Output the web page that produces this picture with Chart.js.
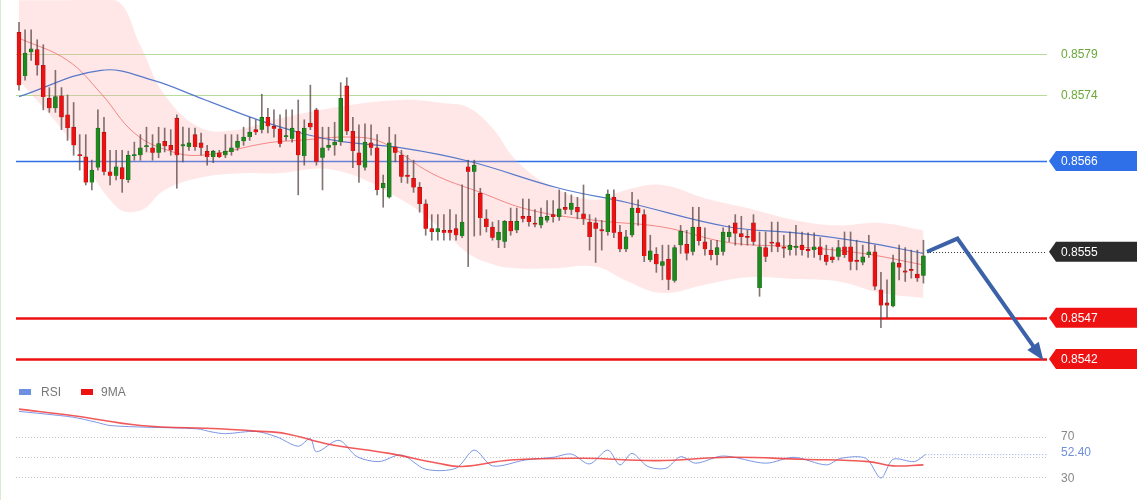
<!DOCTYPE html>
<html><head><meta charset="utf-8">
<script src="https://cdn.jsdelivr.net/npm/chart.js@4"></script>
<style>
html,body{margin:0;padding:0;background:#fff;}
#wrap{position:relative;width:1140px;height:500px;border-left:1px solid #d8ecd0;box-sizing:border-box;}
#main{position:absolute;left:0;top:0;}
#rsi{position:absolute;left:0;top:380px;}
</style></head><body>
<div id="wrap"><canvas id="main" width="1140" height="375"></canvas><canvas id="rsi" width="1140" height="120"></canvas></div>
<script>
const opens=[.85816,.85763,.85792,.85795,.85776,.85736,.85724,.85739,.85716,.85701,.85667,.85665,.85634,.85652,.85695,.85647,.85642,.85652,.85637,.85666,.85667,.85677,.85676,.85670,.85684,.85679,.85712,.85678,.85677,.85692,.85682,.85672,.85665,.85670,.85667,.85671,.85676,.85684,.85689,.85698,.85698,.85713,.85702,.85699,.85689,.85687,.85696,.85666,.85706,.85722,.85664,.85676,.85679,.85683,.85751,.85696,.85670,.85652,.85682,.85676,.85627,.85616,.85677,.85667,.85643,.85639,.85628,.85608,.85578,.85574,.85576,.85576,.85578,.85569,.85653,.85647,
.85621,.85590,.85580,.85564,.85562,.85587,.85576,.85593,.85593,.85584,.85582,.85588,.85595,.85592,.85604,.85601,.85604,.85596,.85586,.85585,.85576,.85574,.85616,.85574,.85553,.85570,.85603,.85595,.85540,.85547,.85533,.85541,.85515,.85558,.85559,.85550,.85580,.85562,.85552,.85546,.85550,.85568,.85585,.85572,.85568,.85585,.85506,.85555,.85561,.85561,.85555,.85552,.85555,.85558,.85552,.85552,.85556,.85546,.85544,.85544,.85556,.85556,.85540,.85537,.85546,.85550,.85504,.85488,.85484,.85536,.85526,.85528,.85523,.85521];
const highs=[.85828,.85819,.85819,.85807,.85801,.85749,.85770,.85749,.85740,.85731,.85692,.85692,.85661,.85722,.85713,.85673,.85673,.85673,.85672,.85683,.85692,.85701,.85692,.85701,.85700,.85698,.85716,.85701,.85700,.85700,.85694,.85679,.85673,.85673,.85692,.85692,.85692,.85701,.85713,.85710,.85741,.85724,.85722,.85716,.85722,.85722,.85734,.85710,.85752,.85724,.85701,.85701,.85707,.85755,.85761,.85713,.85704,.85705,.85704,.85692,.85643,.85701,.85692,.85673,.85667,.85661,.85634,.85613,.85595,.85595,.85595,.85601,.85595,.85631,.85661,.85661,
.85627,.85601,.85586,.85588,.85588,.85603,.85603,.85614,.85614,.85601,.85603,.85612,.85612,.85625,.85622,.85619,.85616,.85631,.85595,.85591,.85588,.85625,.85625,.85582,.85576,.85622,.85613,.85601,.85570,.85555,.85558,.85558,.85558,.85582,.85576,.85604,.85604,.85579,.85564,.85564,.85579,.85582,.85595,.85593,.85576,.85595,.85574,.85574,.85586,.85586,.85570,.85574,.85582,.85574,.85573,.85573,.85567,.85558,.85555,.85564,.85574,.85574,.85564,.85558,.85570,.85558,.85525,.85516,.85546,.85558,.85555,.85552,.85552,.85564];
const lows=[.85746,.85758,.85782,.85764,.85722,.85719,.85719,.85698,.85685,.85667,.85649,.85631,.85625,.85649,.85643,.85631,.85637,.85622,.85634,.85661,.85661,.85671,.85661,.85664,.85671,.85667,.85627,.85659,.85673,.85673,.85667,.85655,.85658,.85664,.85664,.85667,.85673,.85679,.85685,.85692,.85694,.85694,.85689,.85677,.85685,.85683,.85619,.85655,.85698,.85655,.85625,.85673,.85667,.85679,.85692,.85652,.85634,.85649,.85667,.85619,.85604,.85615,.85659,.85634,.85633,.85622,.85598,.85570,.85564,.85564,.85564,.85564,.85564,.85567,.85532,.85569,
.85570,.85574,.85564,.85555,.85555,.85570,.85573,.85586,.85581,.85580,.85579,.85586,.85586,.85588,.85596,.85595,.85590,.85583,.85552,.85537,.85552,.85570,.85567,.85550,.85550,.85568,.85582,.85538,.85538,.85525,.85516,.85504,.85513,.85548,.85540,.85546,.85558,.85546,.85540,.85534,.85546,.85562,.85558,.85558,.85558,.85558,.85496,.85538,.85550,.85550,.85543,.85546,.85546,.85546,.85543,.85543,.85540,.85534,.85537,.85540,.85543,.85528,.85528,.85534,.85543,.85504,.85458,.85470,.85483,.85516,.85514,.85518,.85514,.85512];
const closes=[.85752,.85791,.85796,.85776,.85738,.85724,.85738,.85713,.85700,.85679,.85666,.85634,.85649,.85700,.85647,.85642,.85653,.85638,.85667,.85667,.85676,.85678,.85670,.85681,.85678,.85673,.85667,.85679,.85682,.85677,.85676,.85665,.85672,.85665,.85672,.85676,.85684,.85689,.85695,.85695,.85713,.85702,.85699,.85681,.85690,.85700,.85667,.85700,.85701,.85659,.85676,.85679,.85683,.85736,.85696,.85672,.85655,.85683,.85676,.85625,.85633,.85682,.85670,.85641,.85641,.85628,.85608,.85578,.85574,.85578,.85573,.85573,.85570,.85586,.85647,.85655,
.85591,.85580,.85567,.85574,.85587,.85575,.85587,.85590,.85586,.85583,.85592,.85593,.85592,.85602,.85601,.85609,.85598,.85590,.85568,.85578,.85575,.85620,.85573,.85553,.85568,.85603,.85597,.85545,.85551,.85535,.85538,.85516,.85555,.85575,.85548,.85580,.85563,.85553,.85546,.85555,.85574,.85574,.85572,.85568,.85567,.85562,.85556,.85544,.85560,.85556,.85554,.85558,.85557,.85552,.85551,.85556,.85546,.85538,.85540,.85555,.85546,.85538,.85538,.85544,.85550,.85508,.85485,.85485,.85537,.85531,.85525,.85527,.85518,.85545];

const bandIdx=[0,8,16,20,24,30,36,42,52,63,70,74,78,82,88,95,100,106,113,120,128,135,142,149];
const bandUpper=[.85855,.85855,.85855,.85800,.85740,.85700,.85698,.85710,.85725,.85734,.85730,.85725,.85700,.85660,.85628,.85613,.85625,.85631,.85615,.85603,.85588,.85582,.85585,.85576];
const bandLower=[.85758,.85690,.85605,.85600,.85625,.85640,.85645,.85645,.85649,.85613,.85575,.85548,.85535,.85530,.85530,.85532,.85515,.85500,.85510,.85519,.85517,.85514,.85500,.85494];
const maRedIdx=[0,8,13.5,19,24.5,30,41,46,55,60,68,76,84,95,106,117,128,139,149];
const maRed=[.85809,.85782,.85742,.85694,.85673,.85667,.85682,.85685,.85689,.85682,.85645,.85622,.85601,.85588,.85580,.85561,.85556,.85548,.85534];
const maBlueIdx=[0,13.5,22,30,41,52,63,74,89,100,117,128,139,149];
const maBlue=[.85738,.85770,.85758,.85736,.85706,.85685,.85676,.85660,.85627,.85610,.85580,.85573,.85562,.85548];

const levels=[0.8579,0.8574,0.8566,0.8555,0.8547,0.8542];
const levelLabels=['0.8579','0.8574','0.8566','0.8555','0.8547','0.8542'];
const arrowIdx=[149.6,154.6,168.2];
const arrowPrice=[.85550,.85566,.85424];

const rsiIdx=[0,4.3,9,12.7,15,21,29.3,31.8,34,39,42.5,46,48,49,52.7,55.7,59.3,63,67,72,75,78,83.4,88,91,94,97,99,101,103.6,106.6,109,111.5,116,123,127.7,133,135.4,139.5,142,144,147.5,149.3];
const rsiVals=[95.6,93,89.7,84.8,81.5,79.8,78.2,75,73.3,75.6,70,60.8,68.4,55.2,66.7,50.3,45.4,52,37.8,38.8,56.9,41.1,47,49.7,52.9,43.1,56.9,42.1,53.6,40.5,38.8,50.3,43.8,51,43.8,49.7,42.1,48.7,48.7,29,47.7,45.4,52.4];
const ma9Idx=[0,9,20,33,39,44,51,61,69,73,81,93,105,117,129,140,144,149];
const ma9Vals=[97.9,91.3,81.5,78.2,75.9,73.3,62.8,53.6,43.8,40.5,47,48.7,46.4,49.7,47.7,45.4,41.1,42.1];
const rsiLevels=[70,50,30];
const rsiLast='52.40';

const idx=closes.map((_,i)=>i);
const up=closes.map((c,i)=>c>=opens[i]);
const xy=(xs,ys)=>xs.map((x,i)=>({x,y:ys[i]}));
const XMIN=-18/6.07, XMAX=(1140-18)/6.07;

const overlay={
  id:'overlay',
  beforeDatasetsDraw(ch){
    const {ctx,scales:{x,y}}=ch;
    ctx.save();
    const x0=15, x1=1046;
    const styles=[['#b6dc9a',1.2],['#b6dc9a',1.2],['#2f6fe8',1.5],null,['#ee1111',2.5],['#ee1111',2.5]];
    levels.forEach((lv,i)=>{
      const py=Math.round(y.getPixelForValue(lv))+0.5;
      ctx.beginPath();
      if(styles[i]){ctx.strokeStyle=styles[i][0];ctx.lineWidth=styles[i][1];ctx.setLineDash([]);ctx.moveTo(x0,py);}
      else{ctx.strokeStyle='#333';ctx.lineWidth=1;ctx.setLineDash([1,2]);ctx.moveTo(x.getPixelForValue(149.6),py);}
      ctx.lineTo(x1,py);ctx.stroke();
    });
    ctx.restore();
  },
  afterDraw(ch){
    const {ctx,scales:{x,y}}=ch;
    ctx.save();
    const p1={x:x.getPixelForValue(arrowIdx[1]),y:y.getPixelForValue(arrowPrice[1])};
    const p2={x:x.getPixelForValue(arrowIdx[2]),y:y.getPixelForValue(arrowPrice[2])};
    const a=Math.atan2(p2.y-p1.y,p2.x-p1.x);
    ctx.fillStyle='#3b62a8';
    ctx.beginPath();
    ctx.moveTo(p2.x+6*Math.cos(a),p2.y+6*Math.sin(a));
    ctx.lineTo(p2.x-12*Math.cos(a)+7*Math.sin(a),p2.y-12*Math.sin(a)-7*Math.cos(a));
    ctx.lineTo(p2.x-12*Math.cos(a)-7*Math.sin(a),p2.y-12*Math.sin(a)+7*Math.cos(a));
    ctx.closePath();ctx.fill();
    ctx.font='12px "Liberation Sans", Arial, sans-serif';
    ctx.textBaseline='middle';
    const fills=[null,null,'#2f6fe8','#2b2b2b','#ee1111','#ee1111'];
    levels.forEach((lv,i)=>{
      const py=y.getPixelForValue(lv);
      if(fills[i]){
        ctx.fillStyle=fills[i];
        ctx.beginPath();
        ctx.moveTo(1048,py);ctx.lineTo(1055,py-10);ctx.lineTo(1136,py-10);ctx.lineTo(1136,py+10);ctx.lineTo(1055,py+10);ctx.closePath();ctx.fill();
        ctx.fillStyle='#fff';
      } else ctx.fillStyle='#6aa83a';
      ctx.fillText(levelLabels[i],1060,py+0.5);
    });
    ctx.restore();
  }
};

new Chart(document.getElementById('main'),{
  type:'bar',
  data:{datasets:[
    {type:'bar',data:idx.map(i=>({x:i,y:[opens[i],closes[i]]})),backgroundColor:up.map(u=>u?'#1e8a1e':'#ee1111'),borderColor:up.map(u=>u?'#135a13':'#9a1010'),borderWidth:0.6,barThickness:4,minBarLength:1.5,grouped:false,order:1},
    {type:'bar',data:idx.map(i=>({x:i,y:[lows[i],highs[i]]})),backgroundColor:'rgba(90,70,70,0.75)',barThickness:1,grouped:false,order:2},
    {type:'line',data:xy(bandIdx,bandUpper),borderWidth:0,pointRadius:0,tension:0.4,fill:'+1',backgroundColor:'rgba(255,170,170,0.28)',order:10},
    {type:'line',data:xy(bandIdx,bandLower),borderWidth:0,pointRadius:0,tension:0.4,fill:false,order:11},
    {type:'line',data:xy(maRedIdx,maRed),borderColor:'rgba(240,110,110,0.8)',borderWidth:1,pointRadius:0,tension:0.4,order:5},
    {type:'line',data:xy(maBlueIdx,maBlue),borderColor:'rgba(70,110,200,0.9)',borderWidth:1.2,pointRadius:0,tension:0.4,order:4},
    {type:'line',data:xy(arrowIdx,arrowPrice),borderColor:'#3b62a8',borderWidth:4,pointRadius:0,tension:0,order:0}
  ]},
  options:{responsive:false,animation:false,events:[],layout:{padding:0},
    plugins:{legend:{display:false},tooltip:{enabled:false}},
    scales:{x:{type:'linear',min:XMIN,max:XMAX,offset:false,display:false},y:{min:0.854006,max:0.858552,display:false}}},
  plugins:[overlay]
});

const rsiPlug={
  id:'rsiPlug',
  beforeDatasetsDraw(ch){
    const {ctx,scales:{x,y}}=ch;
    ctx.save();
    ctx.strokeStyle='#c8c8c8';ctx.lineWidth=1;ctx.setLineDash([1,2]);
    rsiLevels.forEach(v=>{const py=Math.round(y.getPixelForValue(v))+0.5;ctx.beginPath();ctx.moveTo(15,py);ctx.lineTo(1046,py);ctx.stroke();});
    ctx.strokeStyle='#8fa8e8';ctx.setLineDash([1,2]);
    const py=y.getPixelForValue(52.4);ctx.beginPath();ctx.moveTo(x.getPixelForValue(149.3),py);ctx.lineTo(1046,py);ctx.stroke();
    ctx.restore();
  },
  afterDraw(ch){
    const {ctx,scales:{y}}=ch;
    ctx.save();
    ctx.font='12px "Liberation Sans", Arial, sans-serif';ctx.textBaseline='middle';
    ctx.fillStyle='#888';
    ctx.fillText('70',1060,y.getPixelForValue(70));
    ctx.fillText('30',1060,y.getPixelForValue(30)+2);
    ctx.fillStyle='#6f8fd8';ctx.fillText(rsiLast,1060,y.getPixelForValue(52.4)-2);
    ctx.fillStyle='#6f8fe0';ctx.fillRect(18,9,12,6);
    ctx.fillStyle='#ee1111';ctx.fillRect(80,9,12,6);
    ctx.fillStyle='#777';ctx.fillText('RSI',40,12.5);ctx.fillText('9MA',100,12.5);
    ctx.restore();
  }
};
new Chart(document.getElementById('rsi'),{
  type:'line',
  data:{datasets:[
    {data:xy(ma9Idx,ma9Vals),borderColor:'rgba(240,60,60,0.85)',borderWidth:1.6,pointRadius:0,tension:0.4},
    {data:xy(rsiIdx,rsiVals),borderColor:'rgba(110,140,225,0.9)',borderWidth:1,pointRadius:0,tension:0.3}
  ]},
  options:{responsive:false,animation:false,events:[],layout:{padding:0},
    plugins:{legend:{display:false},tooltip:{enabled:false}},
    scales:{x:{type:'linear',min:XMIN,max:XMAX,display:false},y:{min:7,max:127,display:false}}},
  plugins:[rsiPlug]
});
</script></body></html>
